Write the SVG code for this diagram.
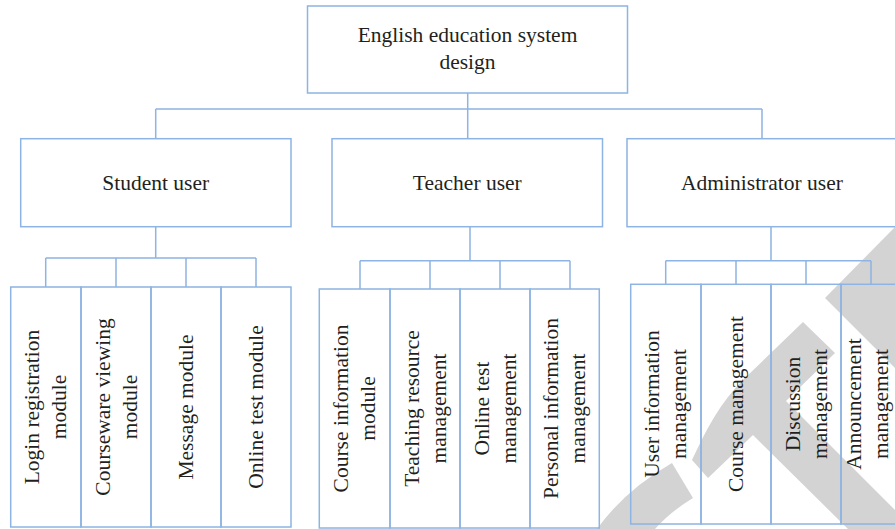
<svg xmlns="http://www.w3.org/2000/svg" width="895" height="529" viewBox="0 0 895 529">
<style>
.box{fill:none;stroke:#8DB4E2;stroke-width:1.5}
.ln{fill:none;stroke:#8DB4E2;stroke-width:1.5}
.t{font-family:"Liberation Serif","Times New Roman",serif;font-size:21.5px;fill:#231f20;text-anchor:middle}
.wm{fill:#d3d3d3}
</style>
<rect x="0" y="0" width="895" height="529" fill="#ffffff"/>
<g id="watermark">
<path class="wm" d="M895,227 L825,298 L895,368 Z"/>
<path class="wm" d="M692,460 C705,432 720,402 745,378 L803,322 L835,353 L786,401 L895,510 L895,529 L848,529 L753,435 L708,478 Z"/>
<path class="wm" d="M597,529 Q625,490 672,463 L693,498 Q670,512 655,529 Z"/>
</g>
<g id="connectors">
<path class="ln" d="M467.7,93 V109 M155.7,109 H762 M155.7,109 V138.7 M467.7,109 V138.7 M762,109 V138.7"/>
<path class="ln" d="M155.7,226.7 V258 M45.7,258 H256 M45.7,258 V287 M116,258 V287 M186,258 V287 M256,258 V287"/>
<path class="ln" d="M470,226.7 V260.7 M360,260.7 H570 M360,260.7 V289 M430,260.7 V289 M500,260.7 V289 M570,260.7 V289"/>
<path class="ln" d="M771,226.7 V260.7 M665.7,260.7 H871 M665.7,260.7 V284.3 M736,260.7 V284.3 M806,260.7 V284.3 M871,260.7 V284.3"/>
</g>
<g id="root">
<rect class="box" x="307.5" y="6" width="320" height="87"/>
<text class="t" x="467.5" y="42">English education system</text>
<text class="t" x="467.5" y="68.5">design</text>
</g>
<g id="student">
<rect class="box" x="20.7" y="138.7" width="270.3" height="88"/>
<text class="t" x="155.7" y="189.5">Student user</text>
</g>
<g id="teacher">
<rect class="box" x="332" y="138.7" width="270.5" height="88"/>
<text class="t" x="467.3" y="189.5">Teacher user</text>
</g>
<g id="admin">
<rect class="box" x="627" y="138.7" width="270" height="88"/>
<text class="t" x="762" y="189.5">Administrator user</text>
</g>
<g id="s1"><rect class="box" x="10.7" y="287" width="70.3" height="240"/>
<text class="t" transform="translate(45.8,407) rotate(-90)"><tspan x="0" y="-6.5">Login registration</tspan><tspan x="0" y="20.5">module</tspan></text></g>
<g id="s2"><rect class="box" x="81" y="287" width="70" height="240"/>
<text class="t" transform="translate(116,407) rotate(-90)"><tspan x="0" y="-6.5">Courseware viewing</tspan><tspan x="0" y="20.5">module</tspan></text></g>
<g id="s3"><rect class="box" x="151" y="287" width="70" height="240"/>
<text class="t" transform="translate(186,407) rotate(-90)"><tspan x="0" y="7">Message module</tspan></text></g>
<g id="s4"><rect class="box" x="221" y="287" width="70" height="240"/>
<text class="t" transform="translate(256,407) rotate(-90)"><tspan x="0" y="7">Online test module</tspan></text></g>
<g id="t1"><rect class="box" x="319.3" y="289" width="70.7" height="239"/>
<text class="t" transform="translate(354.7,408.5) rotate(-90)"><tspan x="0" y="-6.5">Course information</tspan><tspan x="0" y="20.5">module</tspan></text></g>
<g id="t2"><rect class="box" x="390" y="289" width="70" height="239"/>
<text class="t" transform="translate(425,408.5) rotate(-90)"><tspan x="0" y="-6.5">Teaching resource</tspan><tspan x="0" y="20.5">management</tspan></text></g>
<g id="t3"><rect class="box" x="460" y="289" width="70" height="239"/>
<text class="t" transform="translate(495,408.5) rotate(-90)"><tspan x="0" y="-6.5">Online test</tspan><tspan x="0" y="20.5">management</tspan></text></g>
<g id="t4"><rect class="box" x="530" y="289" width="69.3" height="239"/>
<text class="t" transform="translate(564.7,408.5) rotate(-90)"><tspan x="0" y="-6.5">Personal information</tspan><tspan x="0" y="20.5">management</tspan></text></g>
<g id="a1"><rect class="box" x="630.7" y="284.3" width="70.3" height="239.7"/>
<text class="t" transform="translate(665.8,404) rotate(-90)"><tspan x="0" y="-6.5">User information</tspan><tspan x="0" y="20.5">management</tspan></text></g>
<g id="a2"><rect class="box" x="701" y="284.3" width="70" height="239.7"/>
<text class="t" transform="translate(736,404) rotate(-90)"><tspan x="0" y="7">Course management</tspan></text></g>
<g id="a3"><rect class="box" x="771" y="284.3" width="70" height="239.7"/>
<text class="t" transform="translate(806,404) rotate(-90)"><tspan x="0" y="-6.5">Discussion</tspan><tspan x="0" y="20.5">management</tspan></text></g>
<g id="a4"><rect class="box" x="841" y="284.3" width="70" height="239.7"/>
<text class="t" transform="translate(867,404) rotate(-90)"><tspan x="0" y="-6">Announcement</tspan><tspan x="0" y="20.5">management</tspan></text></g>
</svg>
